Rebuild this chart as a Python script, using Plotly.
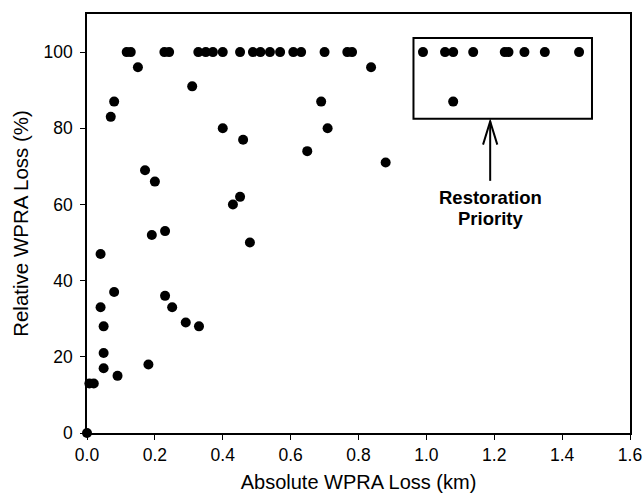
import plotly.graph_objects as go

abs_loss = [0.0, 0.007, 0.020, 0.040, 0.040, 0.049, 0.049, 0.049, 0.070, 0.080, 0.080, 0.090,
            0.117, 0.129, 0.150, 0.171, 0.181, 0.191, 0.200, 0.228, 0.230, 0.230, 0.242, 0.251,
            0.291, 0.310, 0.328, 0.330, 0.350, 0.371, 0.400, 0.400, 0.430, 0.451, 0.451, 0.460,
            0.480, 0.489, 0.511, 0.539, 0.569, 0.608, 0.631, 0.649, 0.690, 0.700, 0.709, 0.767,
            0.781, 0.837, 0.880,
            0.990, 1.055, 1.079, 1.079, 1.138, 1.231, 1.242, 1.289, 1.349, 1.450]
rel_loss = [0, 13, 13, 47, 33, 28, 21, 17, 83, 87, 37, 15,
            100, 100, 96, 69, 18, 52, 66, 100, 53, 36, 100, 33,
            29, 91, 100, 28, 100, 100, 100, 80, 60, 100, 62, 77,
            50, 100, 100, 100, 100, 100, 100, 74, 87, 100, 80, 100,
            100, 96, 71,
            100, 100, 100, 87, 100, 100, 100, 100, 100, 100]

x_ticks = [0.0, 0.2, 0.4, 0.6, 0.8, 1.0, 1.2, 1.4, 1.6]
y_ticks = [0, 20, 40, 60, 80, 100]

# annotation geometry (data units)
box_x = [0.962, 1.488]
box_y = [82.5, 103.7]
arrow_x = 1.188
arrow_y = [66.2, 81.8]
arrow_head_y = 75.7
arrow_head_dx = 0.021
label_lines = ["Restoration", "Priority"]
label_y = [61.9, 56.2]

FONT = "Liberation Sans, Arial"

fig = go.Figure()
fig.add_trace(go.Scatter(x=abs_loss, y=rel_loss, mode="markers",
                         marker=dict(color="black", size=10),
                         cliponaxis=False, showlegend=False))

fig.add_shape(type="rect", x0=box_x[0], x1=box_x[1], y0=box_y[0], y1=box_y[1],
              line=dict(color="black", width=2), fillcolor="rgba(0,0,0,0)")
fig.add_shape(type="line", x0=arrow_x, x1=arrow_x, y0=arrow_y[0], y1=arrow_y[1],
              line=dict(color="black", width=2))
fig.add_shape(type="path",
              path=f"M {arrow_x - arrow_head_dx},{arrow_head_y} L {arrow_x},{arrow_y[1]} "
                   f"L {arrow_x + arrow_head_dx},{arrow_head_y}",
              line=dict(color="black", width=2))
for txt, yy in zip(label_lines, label_y):
    fig.add_annotation(x=arrow_x, y=yy, xref="x", yref="y", yanchor="middle",
                       text=f"<b>{txt}</b>", showarrow=False,
                       font=dict(family=FONT, size=18.5, color="black"))

axis_common = dict(showline=True, linecolor="black", linewidth=1.5, mirror=True,
                   ticks="outside", ticklen=5, tickcolor="black", tickwidth=1.2,
                   showgrid=False, zeroline=False, automargin=False,
                   tickfont=dict(family=FONT, size=17.5, color="black"))
fig.update_xaxes(range=[0, 1.6], tickvals=x_ticks, tickformat=".1f",
                 title=dict(text="Absolute WPRA Loss (km)",
                            font=dict(family=FONT, size=20, color="black"),
                            standoff=14),
                 **axis_common)
fig.update_yaxes(range=[0, 110], tickvals=y_ticks, ticklabelstandoff=4,
                 title=dict(text="Relative WPRA Loss (%)",
                            font=dict(family=FONT, size=20.5, color="black"),
                            standoff=9),
                 **axis_common)
fig.update_layout(width=644, height=493, margin=dict(l=87, r=14, t=14, b=60),
                  plot_bgcolor="white", paper_bgcolor="white")
fig.write_html("out.html", config={"displayModeBar": False},
               post_script="document.body.style.margin='0';document.body.style.overflow='hidden';")
